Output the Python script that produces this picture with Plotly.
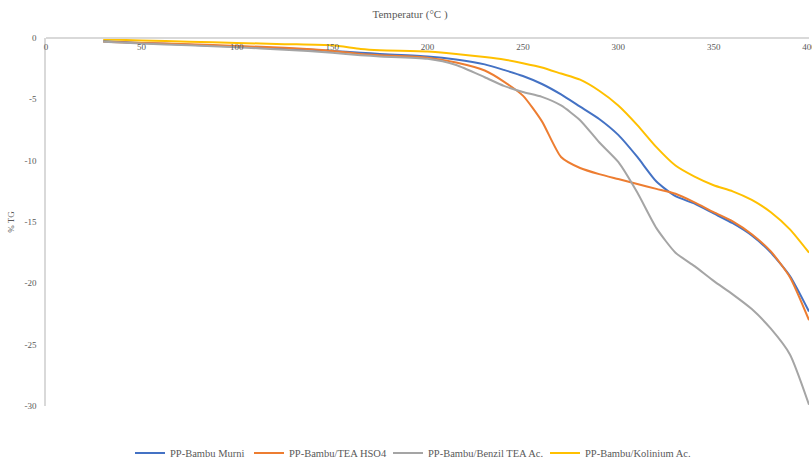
import plotly.graph_objects as go

# Temperature grid (°C) and mass-loss values (% TG) for each sample
temperature = [30, 50, 75, 100, 125, 150, 165, 175, 200, 215, 230, 240, 250, 260,
               270, 280, 290, 300, 310, 320, 330, 340, 350, 360, 370, 380, 390, 400]

tg_murni = [-0.25, -0.4, -0.55, -0.7, -0.85, -1.05, -1.2, -1.3, -1.5, -1.75, -2.15, -2.6, -3.1, -3.75,
            -4.6, -5.6, -6.6, -7.9, -9.7, -11.7, -12.9, -13.5, -14.3, -15.1, -16.1, -17.5, -19.4, -22.3]

tg_tea_hso4 = [-0.3, -0.4, -0.5, -0.65, -0.8, -1.05, -1.3, -1.4, -1.6, -2.0, -2.65, -3.55, -4.7, -6.8,
               -9.7, -10.6, -11.1, -11.5, -11.9, -12.3, -12.7, -13.4, -14.2, -14.95, -16.0, -17.4, -19.5, -23.0]

tg_benzil = [-0.3, -0.45, -0.6, -0.75, -0.95, -1.2, -1.4, -1.5, -1.7, -2.2, -3.2, -3.9, -4.4, -4.8,
             -5.5, -6.7, -8.5, -10.1, -12.6, -15.5, -17.5, -18.6, -19.8, -20.9, -22.1, -23.7, -25.8, -29.9]

tg_kolinium = [-0.1, -0.2, -0.3, -0.4, -0.5, -0.6, -0.9, -1.0, -1.1, -1.3, -1.55, -1.75, -2.05, -2.4,
               -2.9, -3.4, -4.3, -5.5, -7.1, -8.9, -10.4, -11.3, -12.0, -12.5, -13.2, -14.2, -15.6, -17.5]

series_names = ["PP-Bambu Murni", "PP-Bambu/TEA HSO4", "PP-Bambu/Benzil TEA Ac.", "PP-Bambu/Kolinium Ac."]
series_values = [tg_murni, tg_tea_hso4, tg_benzil, tg_kolinium]
series_colors = ["#4472C4", "#ED7D31", "#A5A5A5", "#FFC000"]

x_ticks = [0, 50, 100, 150, 200, 250, 300, 350, 400]
y_ticks = [0, -5, -10, -15, -20, -25, -30]

font_family = "Liberation Serif"
text_color = "#595959"

# One legend box per series so each entry can sit at its own spot along the bottom row
legend_ids = ["legend", "legend2", "legend3", "legend4"]
legend_left_px = [130, 249, 388, 545]
W, H = 812, 461

fig = go.Figure()
for name, vals, color, lg in zip(series_names, series_values, series_colors, legend_ids):
    fig.add_trace(go.Scatter(
        x=temperature, y=vals, name=name, mode="lines", legend=lg,
        line=dict(color=color, width=2, shape="spline", smoothing=0.6),
    ))

legend_layout = {}
for lg, left in zip(legend_ids, legend_left_px):
    legend_layout[lg] = dict(
        orientation="h", xref="container", yref="container",
        x=left / W, xanchor="left", y=(H - 453) / H, yanchor="middle",
        font=dict(family=font_family, size=10.5, color=text_color),
        bgcolor="rgba(0,0,0,0)", itemwidth=30,
    )

fig.update_layout(
    width=W, height=H,
    margin=dict(l=46, r=3, t=38, b=55, autoexpand=False),
    paper_bgcolor="white", plot_bgcolor="white",
    font=dict(family=font_family, size=9, color=text_color),
    title=dict(text="Temperatur (°C )", x=0.505, xref="container", xanchor="center",
               y=0.97, yref="container", yanchor="middle",
               font=dict(family=font_family, size=11, color=text_color)),
    showlegend=True,
    **legend_layout,
)

# Horizontal axis sits at the top edge (y = 0), with labels hanging below the line
fig.update_xaxes(
    range=[0, 400], side="bottom", anchor="free", position=1,
    tickvals=x_ticks, ticktext=[str(v) for v in x_ticks],
    showgrid=False, zeroline=False, automargin=False,
    showline=True, linecolor="#D9D9D9", linewidth=1.5,
    ticks="", ticklabelstandoff=0, ticklabeloverflow="allow",
    tickfont=dict(family=font_family, size=9, color=text_color),
)

fig.update_yaxes(
    range=[-30, 0], domain=[0, 1],
    tickvals=y_ticks, ticktext=[str(v) for v in y_ticks],
    showgrid=False, zeroline=False, automargin=False,
    showline=True, linecolor="#D9D9D9", linewidth=1.5,
    ticks="", ticklabelstandoff=6, ticklabeloverflow="allow",
    tickfont=dict(family=font_family, size=9, color=text_color),
    title=dict(text="% TG", standoff=8, font=dict(family=font_family, size=9, color=text_color)),
)

fig.write_html("out.html")
